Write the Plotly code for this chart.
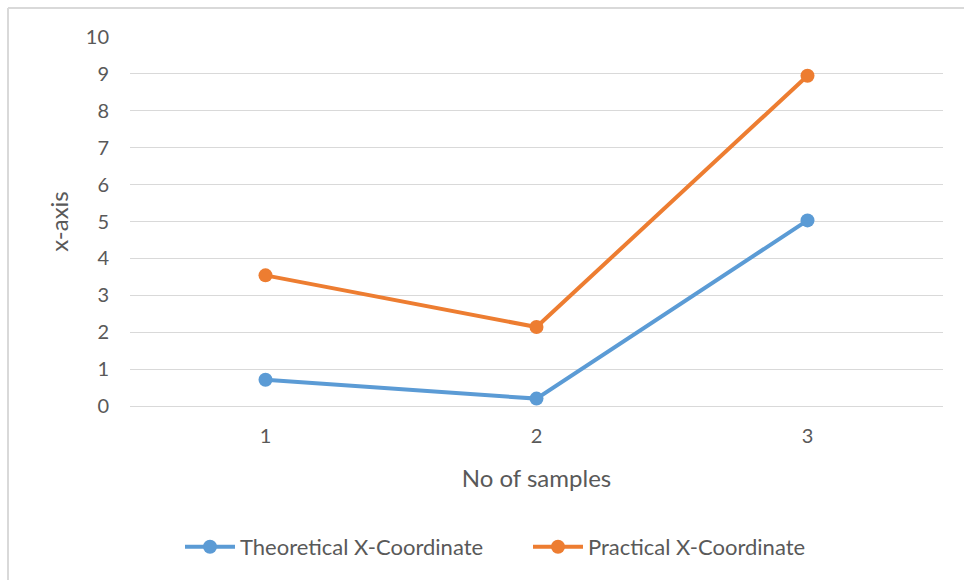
import plotly.graph_objects as go

# Sample numbers and measured coordinates
samples = [1, 2, 3]
theoretical_x = [0.71, 0.20, 5.03]
practical_x = [3.54, 2.14, 8.95]
y_ticks = list(range(0, 11))

W, H = 964, 580
L, R, T, B = 130, 21, 37, 174
pw, ph = W - L - R, H - T - B

FONT = "Lato, 'Open Sans', sans-serif"
TXT = "#595959"
GRID = "#d9d9d9"

fig = go.Figure()
fig.add_trace(go.Scatter(
    x=samples, y=theoretical_x, name="Theoretical X-Coordinate",
    mode="lines+markers",
    line=dict(color="#5b9bd5", width=4),
    marker=dict(color="#5b9bd5", size=14),
))
fig.add_trace(go.Scatter(
    x=samples, y=practical_x, name="Practical X-Coordinate",
    mode="lines+markers",
    line=dict(color="#ed7d31", width=4),
    marker=dict(color="#ed7d31", size=14),
))

# Chart-area frame (top and left edges are visible inside the canvas)
def px_x(p):
    return (p - L) / pw

def px_y(p):
    return 1 - (p - T) / ph

fig.add_shape(type="line", xref="paper", yref="paper",
              x0=px_x(8), x1=px_x(8), y0=px_y(8), y1=px_y(600),
              line=dict(color=GRID, width=2))
fig.add_shape(type="line", xref="paper", yref="paper",
              x0=px_x(8), x1=px_x(1000), y0=px_y(8), y1=px_y(8),
              line=dict(color=GRID, width=2))

fig.update_layout(
    width=W, height=H,
    margin=dict(l=L, r=R, t=T, b=B, autoexpand=False),
    paper_bgcolor="white", plot_bgcolor="white",
    font=dict(family=FONT, size=20, color=TXT),
    showlegend=True,
    legend=dict(orientation="h", x=px_x(180), xanchor="left",
                y=px_y(547), yanchor="middle",
                font=dict(family=FONT, size=22, color=TXT),
                entrywidth=283, entrywidthmode="pixels",
                itemwidth=50, tracegroupgap=0, bgcolor="rgba(0,0,0,0)"),
    xaxis=dict(
        range=[0.5, 3.5], tickvals=samples, ticktext=[str(s) for s in samples],
        showgrid=False, zeroline=False, showline=True, linecolor=GRID, linewidth=1,
        ticks="", ticklabelstandoff=12, automargin=False,
        tickfont=dict(family=FONT, size=20, color=TXT),
        title=dict(text="No of samples", font=dict(family=FONT, size=24, color=TXT),
                   standoff=24),
    ),
    yaxis=dict(
        range=[0, 10], tickvals=y_ticks,
        showgrid=True, gridcolor=GRID, gridwidth=1,
        zeroline=False, showline=False, ticks="", ticklabelstandoff=20,
        automargin=False,
        tickfont=dict(family=FONT, size=20, color=TXT),
        title=dict(text="x-axis", font=dict(family=FONT, size=24, color=TXT),
                   standoff=10),
    ),
)

fig.write_html("out.html")
